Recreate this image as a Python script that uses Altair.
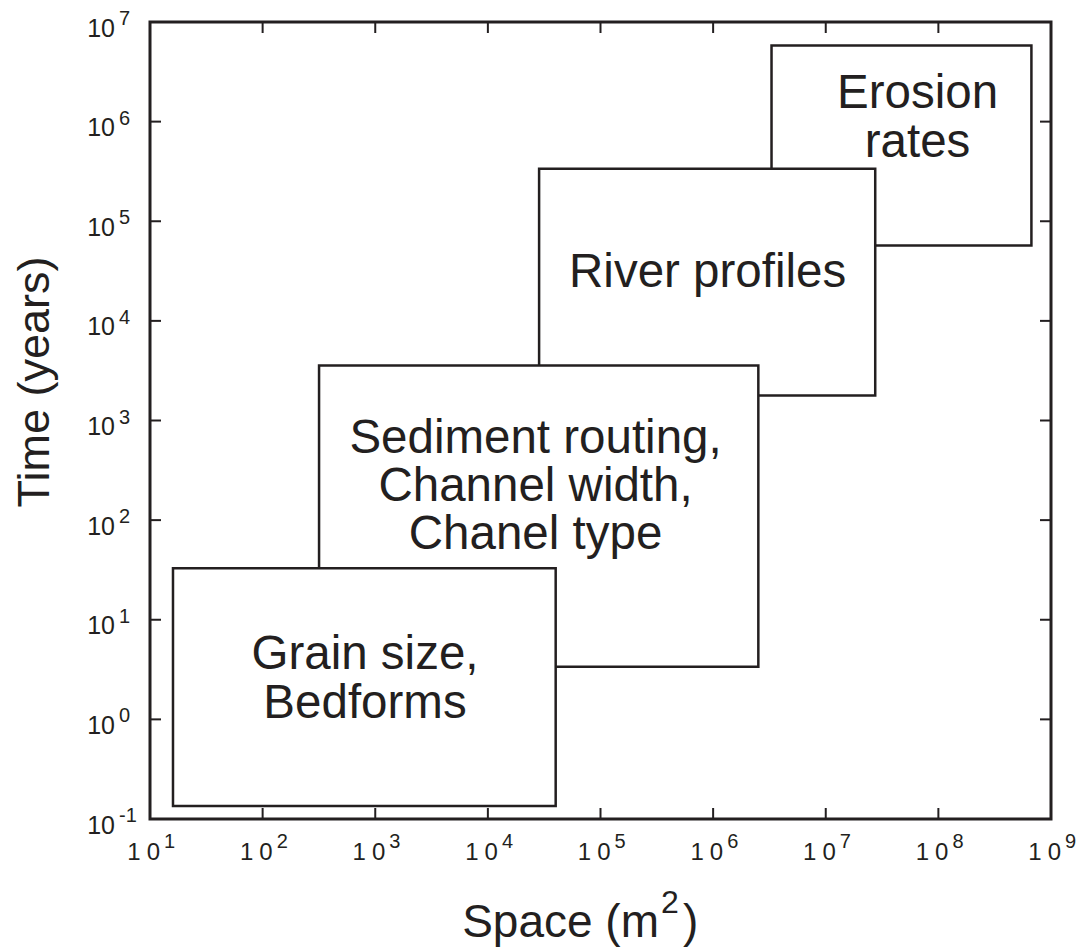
import altair as alt
import pandas as pd

# ---- data ----
box_labels = ["Erosion\nrates", "River profiles",
              "Sediment routing,\nChannel width,\nChanel type",
              "Grain size,\nBedforms"]
space_min = [3.3e6, 2.85e4, 3.17e2, 1.6e1]
space_max = [6.7e8, 2.75e7, 2.52e6, 4.0e4]
time_min = [5.7e4, 1.78e3, 3.38, 0.135]
time_max = [5.8e6, 3.36e5, 3.56e3, 32.9]
label_space = [6.53e7, 8.94e5, 2.65e4, 8.11e2]
label_time = [1.88e6, 3.01e4, 6.59e2, 4.40]

x_ticks = [1e1, 1e2, 1e3, 1e4, 1e5, 1e6, 1e7, 1e8, 1e9]
x_exponents = ["1", "2", "3", "4", "5", "6", "7", "8", "9"]
y_ticks = [1e-1, 1e0, 1e1, 1e2, 1e3, 1e4, 1e5, 1e6, 1e7]
y_exponents = ["-1", "0", "1", "2", "3", "4", "5", "6", "7"]

W, H = 901, 797
FONT = "Liberation Sans"
INK = "#231f20"

boxes = pd.DataFrame({"label": box_labels, "x0": space_min, "x1": space_max,
                      "y0": time_min, "y1": time_max,
                      "lx": label_space, "ly": label_time})
xt = pd.DataFrame({"v": x_ticks, "e": x_exponents, "b": ["1\u20050"] * len(x_ticks)})
yt = pd.DataFrame({"v": y_ticks, "e": y_exponents, "b": ["10"] * len(y_ticks)})
one = pd.DataFrame({"t": ["Time (years)"], "s": ["Space (m"], "two": ["2"], "p": [")"]})

xs = alt.Scale(type="log", domain=[1e1, 1e9], nice=False, zero=False)
ys = alt.Scale(type="log", domain=[1e-1, 1e7], nice=False, zero=False)

def X(f):
    return alt.X(f, type="quantitative", scale=xs, axis=None)

def Y(f):
    return alt.Y(f, type="quantitative", scale=ys, axis=None)

tick_len = 11
rule = dict(color=INK, strokeWidth=2)
bottom_ticks = alt.Chart(xt).mark_rule(**rule).encode(
    x=X("v"), y=alt.value(H), y2=alt.value(H - tick_len))
top_ticks = alt.Chart(xt).mark_rule(**rule).encode(
    x=X("v"), y=alt.value(0), y2=alt.value(tick_len))
left_ticks = alt.Chart(yt).mark_rule(**rule).encode(
    y=Y("v"), x=alt.value(0), x2=alt.value(tick_len))
right_ticks = alt.Chart(yt).mark_rule(**rule).encode(
    y=Y("v"), x=alt.value(W), x2=alt.value(W - tick_len))

rects = alt.Chart(boxes).mark_rect(fill="white", stroke=INK, strokeWidth=2.5).encode(
    x=X("x0"), x2="x1", y=Y("y0"), y2="y1")

box_text = alt.Chart(boxes).mark_text(
    font=FONT, fontSize=47.5, lineHeight=48.4, lineBreak="\n", color=INK,
    align="center", baseline="middle").encode(
    x=X("lx"), y=Y("ly"), text="label:N")

xl_base = alt.Chart(xt).mark_text(font=FONT, fontSize=24, color=INK, align="right",
                                  baseline="alphabetic", dx=10).encode(
    x=X("v"), y=alt.value(H + 41), text="b:N")
xl_exp = alt.Chart(xt).mark_text(font=FONT, fontSize=20, color=INK, align="left",
                                 baseline="alphabetic", dx=14).encode(
    x=X("v"), y=alt.value(H + 29), text="e:N")
yl_base = alt.Chart(yt).mark_text(font=FONT, fontSize=25, color=INK, align="right",
                                  baseline="alphabetic", dy=14.5).encode(
    y=Y("v"), x=alt.value(-35), text="b:N")
yl_exp = alt.Chart(yt).mark_text(font=FONT, fontSize=20, color=INK, align="left",
                                 baseline="alphabetic", dy=3).encode(
    y=Y("v"), x=alt.value(-31), text="e:N")

y_title = alt.Chart(one).mark_text(font=FONT, fontSize=45, color=INK, angle=270,
                                   align="center", baseline="alphabetic").encode(
    x=alt.value(-101), y=alt.value(360), text="t:N")
x_title_a = alt.Chart(one).mark_text(font=FONT, fontSize=46, color=INK, align="right",
                                     baseline="alphabetic").encode(
    x=alt.value(509), y=alt.value(915), text="s:N")
x_title_b = alt.Chart(one).mark_text(font=FONT, fontSize=32, color=INK, align="left",
                                     baseline="alphabetic").encode(
    x=alt.value(511), y=alt.value(891), text="two:N")
x_title_c = alt.Chart(one).mark_text(font=FONT, fontSize=46, color=INK, align="left",
                                     baseline="alphabetic").encode(
    x=alt.value(533), y=alt.value(915), text="p:N")

chart = alt.layer(
    bottom_ticks, top_ticks, left_ticks, right_ticks,
    rects, box_text,
    xl_base, xl_exp, yl_base, yl_exp,
    y_title, x_title_a, x_title_b, x_title_c,
).properties(
    width=W, height=H,
    autosize=alt.AutoSizeParams(type="none"),
    padding={"left": 142, "top": 14, "right": 25, "bottom": 140},
    background="white",
).configure_view(stroke=INK, strokeWidth=3)

chart.save("out.html", embed_options={"renderer": "svg", "actions": False})
